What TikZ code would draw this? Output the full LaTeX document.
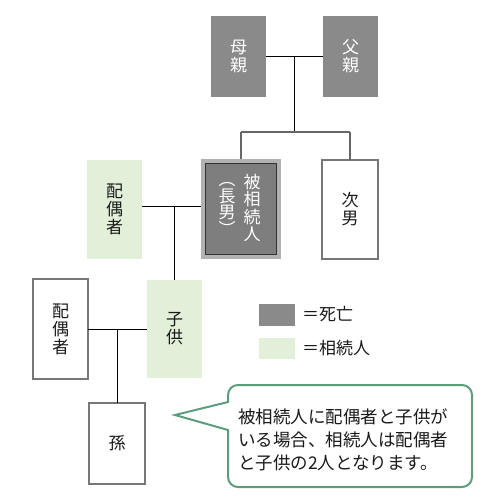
\documentclass[tikz,border=0pt]{standalone}
\usepackage{fontspec}
\newfontfamily\jp{Noto Sans CJK JP}
\definecolor{deadgray}{HTML}{8A8A8A}
\definecolor{decgray}{HTML}{7E7E7E}
\definecolor{heirgreen}{HTML}{E2EFD9}
\definecolor{boxline}{HTML}{777777}
\definecolor{callgreen}{HTML}{5C9E7B}
\definecolor{ink}{HTML}{1A1A1A}
\begin{document}
\begin{tikzpicture}[x=1pt,y=-1pt,
  every node/.style={inner sep=0pt,outer sep=0pt,font=\jp\fontsize{17}{18}\selectfont,align=center},
  dead/.style={rectangle,fill=deadgray,text=white},
  heir/.style={rectangle,fill=heirgreen,text=ink},
  plain/.style={rectangle,fill=white,draw=boxline,line width=1.2pt,text=ink},
  link/.style={black,line width=0.9pt},
  glink/.style={black!60,line width=1.2pt}]
\useasboundingbox (0,0) rectangle (500,500);
% parents
\node[dead,minimum width=55pt,minimum height=81pt] (mother) at (238.5,56.5) {母\\親};
\node[dead,minimum width=55pt,minimum height=81pt] (father) at (350.5,56.5) {父\\親};
% children of parents
\node[rectangle,fill=decgray,draw=black!30,line width=4pt,minimum width=76pt,minimum height=96pt] (dec) at (241,209) {};
\draw[black!80,line width=1pt] ([xshift=2.5pt,yshift=-2.5pt]dec.north west) rectangle ([xshift=-2.5pt,yshift=2.5pt]dec.south east);
\node[text=white,font=\jp\fontsize{17}{17.5}\selectfont] (decA) at (252,208) {被\\相\\続\\人};
\node[text=white,font=\jp\fontsize{17}{16.5}\selectfont] (decB) at (227,209) {︵\\長\\男\\︶};
\node[plain,minimum width=56pt,minimum height=99pt] (second) at (350,209.5) {次\\男};
% spouse of deceased
\node[heir,minimum width=55pt,minimum height=99pt] (spouse1) at (114.5,209.5) {配\\偶\\者};
% child generation
\node[heir,minimum width=55pt,minimum height=98pt] (child) at (174.5,329) {子\\供};
\node[plain,minimum width=55pt,minimum height=100pt] (spouse2) at (60.5,329) {配\\偶\\者};
\node[plain,minimum width=56pt,minimum height=81pt] (grand) at (117,443.5) {孫};
% connectors
\coordinate (j1) at (294,56.5);
\coordinate (j2) at (294,132);
\coordinate (j3) at (174.5,206);
\coordinate (j4) at (117,329);
\draw[link] (mother.east) -- (father.west);
\draw[link] (j1) -- (j2);
\draw[glink] (dec.north |- j2) -- (second.north |- j2);
\draw[glink] (dec.north |- j2) -- ([yshift=2pt]dec.north);
\draw[glink] (second.north |- j2) -- (second.north);
\draw[link] (spouse1.east |- j3) -- ([xshift=-2pt]dec.west |- j3);
\draw[link] (j3) -- (child.north);
\draw[link] (spouse2.east |- j4) -- (child.west |- j4);
\draw[link] (j4) -- (grand.north);
% legend
\node[rectangle,fill=deadgray,minimum width=36pt,minimum height=22pt] (legdead) at (277,315) {};
\node[anchor=west,text=ink] (legdeadt) at (302,314.5) {＝死亡};
\node[rectangle,fill=heirgreen,minimum width=36pt,minimum height=21pt] (legheir) at (277,348.5) {};
\node[anchor=west,text=ink] (legheirt) at (302,348) {＝相続人};
% callout
\draw[callgreen,line width=2pt,fill=white,line join=miter]
  (228,402) -- (228,395) arc[start angle=180,end angle=270,radius=10] -- (462,385)
  arc[start angle=270,end angle=360,radius=10] -- (472,477)
  arc[start angle=0,end angle=90,radius=10] -- (238,487)
  arc[start angle=90,end angle=180,radius=10] -- (228,430) -- (175,415) -- cycle;
\node[anchor=west,align=left,text=ink,font=\jp\fontsize{17.5}{23}\selectfont] (note) at (238,440)
  {被相続人に配偶者と子供が\\いる場合、相続人は配偶者\\と子供の2人となります。};
\end{tikzpicture}
\end{document}
